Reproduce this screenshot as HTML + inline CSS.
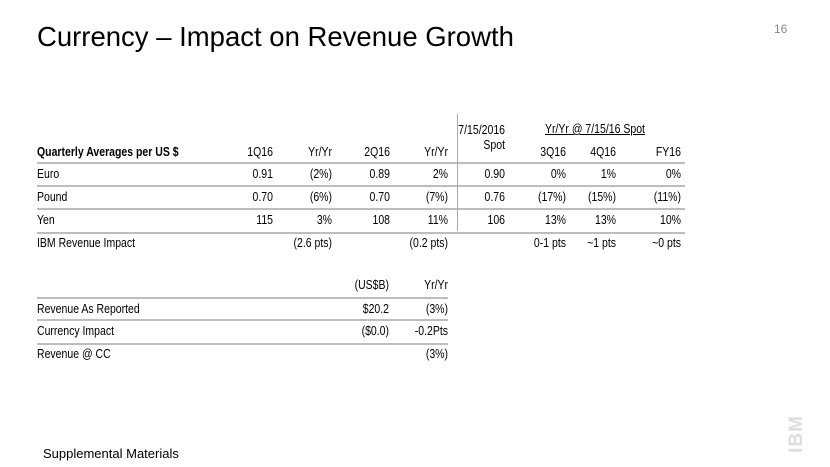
<!DOCTYPE html>
<html><head><meta charset="utf-8"><style>
body{margin:0;width:830px;height:467px;background:#fff;position:relative;overflow:hidden;font-family:"Liberation Sans",sans-serif;color:#000}
.t{position:absolute;font-family:"Liberation Sans",sans-serif;font-size:12.5px;white-space:nowrap;line-height:14px;transform:scaleX(0.84);transform-origin:left center}
.r{text-align:right;transform-origin:right center}
.hl{position:absolute;height:1.5px;background:#bdbdbd}
</style></head><body>
<div style="position:absolute;left:37px;top:21px;font-size:27.5px;color:#000">Currency – Impact on Revenue Growth</div>
<div style="position:absolute;left:774px;top:22px;font-size:12px;color:#888">16</div>
<div style="position:absolute;left:43px;top:446px;font-size:13px">Supplemental Materials</div>
<div style="position:absolute;left:778px;top:423px;transform:rotate(-90deg);font-size:19px;font-weight:bold;color:#ddd;letter-spacing:1px">IBM</div>

<div id="t1"></div>
<div id="t2"></div>
<div class="hl" style="left:457px;top:114px;width:1px;height:117px;background:#aaa"></div>

<script>
const colRights=[273,332,390,448,505,566,616,681];
const headers=["1Q16","Yr/Yr","2Q16","Yr/Yr","","3Q16","4Q16","FY16"];
const rowLabels=["Euro","Pound","Yen","IBM Revenue Impact"];
const rows=[
["0.91","(2%)","0.89","2%","0.90","0%","1%","0%"],
["0.70","(6%)","0.70","(7%)","0.76","(17%)","(15%)","(11%)"],
["115","3%","108","11%","106","13%","13%","10%"],
["","(2.6 pts)","","(0.2 pts)","","0-1 pts","~1 pts","~0 pts"]];
const rowY=[174,197,220,243];
const lineY=[162,185,208,232];
function txt(parent,s,x,y,right,name,extra){
 const d=document.createElement('div');d.className='t'+(right?' r':'');
 d.textContent=s;
 
 
 if(right){d.style.left=(x-150)+'px';d.style.width='150px';}else d.style.left=x+'px';
 d.style.top=(y-7)+'px';
 if(extra)Object.assign(d.style,extra);
 parent.appendChild(d);return d;}
function line(parent,x,y,w,name){
 const d=document.createElement('div');d.className='hl';
 
 
 d.style.left=x+'px';d.style.top=y+'px';d.style.width=w+'px';parent.appendChild(d);}
const t1=document.getElementById('t1');
txt(t1,"Quarterly Averages per US $",37,152,false,'header-label',{fontWeight:'bold'});
headers.forEach((h,i)=>{if(h)txt(t1,h,colRights[i],152,true,'column-header');});
txt(t1,"7/15/2016",505,130,true,'spot-header');
txt(t1,"Spot",505,145,true,'spot-header');
txt(t1,"Yr/Yr @ 7/15/16 Spot",545,129,false,'spot-group-header',{textDecoration:'underline'});
lineY.forEach(y=>line(t1,37,y,648,'row-divider'));
rowLabels.forEach((l,r)=>{
 txt(t1,l,37,rowY[r],false,'row-label');
 rows[r].forEach((v,i)=>{if(v)txt(t1,v,colRights[i],rowY[r],true,'table-cell');});
});
const t2=document.getElementById('t2');
const labels2=["Revenue As Reported","Currency Impact","Revenue @ CC"];
const usd=["$20.2","($0.0)",""];
const yy=["(3%)","-0.2Pts","(3%)"];
const y2=[309,331,354];
txt(t2,"(US$B)",389,285,true,'column-header');
txt(t2,"Yr/Yr",448,285,true,'column-header');
[297,319,343].forEach(y=>line(t2,37,y,411,'row-divider'));
labels2.forEach((l,r)=>{
 txt(t2,l,37,y2[r],false,'row-label');
 if(usd[r])txt(t2,usd[r],389,y2[r],true,'table-cell');
 txt(t2,yy[r],448,y2[r],true,'table-cell');
});
</script>
</body></html>
